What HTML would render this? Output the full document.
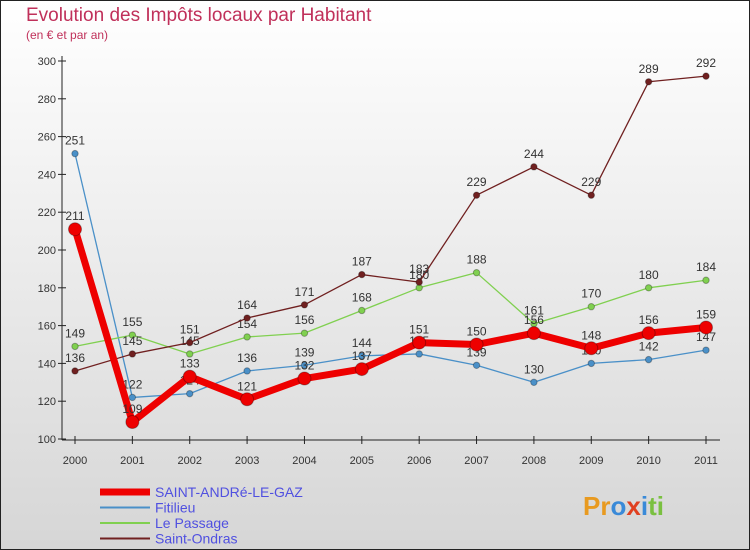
<!DOCTYPE html>
<html><head><meta charset="utf-8"><style>
body{margin:0;width:750px;height:550px;overflow:hidden;font-family:"Liberation Sans","DejaVu Sans",sans-serif}
svg{display:block}
</style></head><body>
<svg width="750" height="550" xmlns="http://www.w3.org/2000/svg">
<defs><linearGradient id="bg" x1="0" y1="0" x2="0" y2="1"><stop offset="0" stop-color="#ffffff"/><stop offset="1" stop-color="#d6d6d6"/></linearGradient></defs>
<rect x="0.5" y="0.5" width="749" height="549" fill="url(#bg)" stroke="#222"/>
<text x="26" y="21" font-size="19" fill="#c0305a">Evolution des Impôts locaux par Habitant</text>
<text x="26" y="39" font-size="12" fill="#c0305a">(en € et par an)</text>
<g id="axes"></g>
<g id="series"></g>
<g id="legend"></g>
<text x="583" y="515" font-size="26" font-weight="bold"><tspan fill="#e89a20">Pr</tspan><tspan fill="#3a8ad8">o</tspan><tspan fill="#e04020">x</tspan><tspan fill="#3a8ad8">i</tspan><tspan fill="#7ac040">ti</tspan></text>
</svg>
<script>
const years=["2000","2001","2002","2003","2004","2005","2006","2007","2008","2009","2010","2011"];
const yTicks=[100,120,140,160,180,200,220,240,260,280,300];
const saint=[211,109,133,121,132,137,151,150,156,148,156,159];
const fitilieu=[251,122,124,136,139,144,145,139,130,140,142,147];
const passage=[149,155,145,154,156,168,180,188,161,170,180,184];
const ondras=[136,145,151,164,171,187,183,229,244,229,289,292];
const NS="http://www.w3.org/2000/svg";
function x(i){return 75+i*(706-75)/(years.length-1);}
function y(v){return 439-(v-100)*(439-61)/200;}
function mk(t,a,p){const e=document.createElementNS(NS,t);for(const k in a)e.setAttribute(k,a[k]);p.appendChild(e);return e;}
const ax=document.getElementById('axes');
let l=mk('line',{x1:62,y1:56,x2:62,y2:440,stroke:'#222'},ax);


l=mk('line',{x1:62,y1:440,x2:720,y2:440,stroke:'#222'},ax);


yTicks.forEach(v=>{
 mk('line',{x1:58,y1:y(v),x2:66,y2:y(v),stroke:'#222'},ax);
 const t=mk('text',{x:56,y:y(v)+4,'font-size':11,fill:'#333','text-anchor':'end'},ax);t.textContent=v;
 
 
});
years.forEach((yr,i)=>{
 mk('line',{x1:x(i),y1:436,x2:x(i),y2:444,stroke:'#222'},ax);
 const t=mk('text',{x:x(i),y:464,'font-size':11,fill:'#333','text-anchor':'middle'},ax);t.textContent=yr;
 
 
});
const sg=document.getElementById('series');
function draw(arr,col,w,r,name){
 const g=mk('g',{},sg);
 
 
 mk('polyline',{points:arr.map((v,i)=>x(i)+','+y(v)).join(' '),fill:'none',stroke:col,'stroke-width':w,'stroke-linejoin':'round'},g);
 arr.forEach((v,i)=>{
  const c=mk('circle',{cx:x(i),cy:y(v),r:r,fill:col,stroke:'rgba(0,0,0,0.3)'},g);
  
  
  const t=mk('text',{x:x(i),y:y(v)-9,'font-size':12,fill:'#333','text-anchor':'middle'},g);t.textContent=v;
  
  
 });
}
draw(fitilieu,'#4a90c8',1.3,3.2,'series-fitilieu');
draw(passage,'#80d050',1.3,3.2,'series-le-passage');
draw(ondras,'#702020',1.3,3.2,'series-saint-ondras');
draw(saint,'#ee0000',7,6.5,'series-saint-andre');
const lg=document.getElementById('legend');
const ent=[["SAINT-ANDRé-LE-GAZ",'#ee0000',7],["Fitilieu",'#4a90c8',2],["Le Passage",'#80d050',2],["Saint-Ondras",'#702020',2]];
ent.forEach((e,i)=>{
 const yy=492+i*15.5;
 const g=mk('g',{},lg);
 
 
 mk('line',{x1:100,y1:yy,x2:150,y2:yy,stroke:e[1],'stroke-width':e[2]},g);
 const t=mk('text',{x:155,y:yy+5,'font-size':14,fill:'#5050e0'},g);t.textContent=e[0];
});
</script>
</body></html>
